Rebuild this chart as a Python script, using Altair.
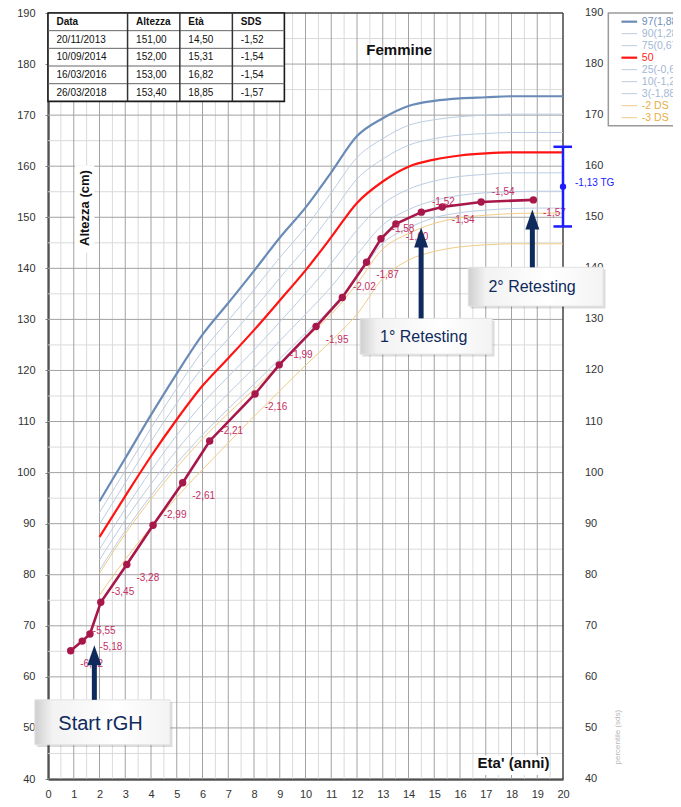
import altair as alt
import pandas as pd

FONT = "Liberation Sans"

# ---------------- reference curves (girls' height, cm) ----------------
ref_age = list(range(2, 21))
p97 = [94.4, 102.8, 111.3, 119.4, 127.0, 133.2, 139.5, 146.0, 151.9, 158.8, 165.9, 169.4, 171.8, 172.8, 173.3, 173.5, 173.7, 173.7, 173.7]
p90 = [92.2, 100.4, 108.7, 116.5, 123.8, 129.8, 135.8, 142.1, 148.0, 154.8, 161.7, 165.4, 168.0, 169.1, 169.7, 170.0, 170.2, 170.2, 170.2]
p75 = [89.9, 98.0, 106.1, 113.6, 120.6, 126.2, 132.0, 138.1, 144.0, 150.6, 157.5, 161.4, 164.1, 165.4, 166.1, 166.4, 166.6, 166.6, 166.6]
p50 = [87.4, 95.4, 103.2, 110.4, 117.0, 122.4, 127.9, 133.7, 139.6, 146.1, 152.8, 157.0, 159.9, 161.3, 162.1, 162.5, 162.7, 162.7, 162.7]
p25 = [85.0, 92.9, 100.4, 107.3, 113.5, 118.8, 124.0, 129.5, 135.1, 141.0, 147.5, 152.6, 155.5, 157.1, 158.0, 158.4, 158.7, 158.7, 158.7]
p10 = [82.9, 90.7, 97.8, 104.4, 110.3, 115.5, 120.5, 125.8, 131.0, 136.4, 142.7, 148.5, 151.5, 153.3, 154.3, 154.8, 155.0, 155.1, 155.1]
p3 = [80.9, 88.6, 95.5, 101.8, 107.4, 112.5, 117.3, 122.3, 127.3, 132.2, 138.3, 144.9, 147.9, 149.9, 150.9, 151.4, 151.7, 151.8, 151.8]
m2ds = [80.3, 88.0, 94.8, 101.0, 106.6, 111.6, 116.3, 121.3, 126.2, 131.0, 137.0, 143.8, 146.8, 148.8, 149.9, 150.4, 150.7, 150.8, 150.8]
m3ds = [76.0, 83.0, 89.3, 95.2, 100.6, 105.8, 111.0, 116.0, 121.0, 125.8, 131.0, 138.0, 141.6, 143.3, 144.2, 144.6, 144.8, 144.8, 144.8]

# ---------------- patient ----------------
pt_age = [0.88, 1.33, 1.63, 2.05, 3.06, 4.08, 5.23, 6.28, 8.04, 8.98, 10.41, 11.43, 12.37, 12.93, 13.51, 14.50, 15.31, 16.82, 18.85]
pt_height = [65.1, 67.0, 68.4, 74.6, 82.0, 89.7, 98.0, 106.2, 115.4, 121.1, 128.6, 134.3, 141.2, 145.8, 148.7, 151.0, 152.0, 153.0, 153.4]
pt_sds = ["-6,12", "-5,55", "-5,18", "-3,45", "-3,28", "-2,99", "-2,61", "-2,21", "-2,16", "-1,99", "-1,95",
          "-2,02", "-1,87", "-1,58", "-1,60", "-1,52", "-1,54", "-1,54", "-1,57"]

# ---------------- table ----------------
table_header = ["Data", "Altezza", "Età", "SDS"]
table_dates = ["20/11/2013", "10/09/2014", "16/03/2016", "26/03/2018"]
table_height = ["151,00", "152,00", "153,00", "153,40"]
table_age = ["14,50", "15,31", "16,82", "18,85"]
table_sds = ["-1,52", "-1,54", "-1,54", "-1,57"]

# ---------------- legend ----------------
legend_labels = ["97(1,88)", "90(1,28)", "75(0,67)", "50", "25(-0,67)", "10(-1,28)", "3(-1,88)", "-2 DS", "-3 DS"]
series_keys = ["97", "90", "75", "50", "25", "10", "3", "-2DS", "-3DS"]
series_vals = [p97, p90, p75, p50, p25, p10, p3, m2ds, m3ds]

# target height
tg_mid, tg_low, tg_high = 156.0, 148.2, 163.8
tg_label = "-1,13 TG"

# x / y tick values
x_ticks = list(range(0, 21))
y_ticks = list(range(40, 191, 10))

# ---------------- styles ----------------
DARK_BLUE = "#6a8bb8"
LIGHT_BLUE = "#bccde3"
RED = "#ff1414"
ORANGE = "#f1cc85"
PATIENT = "#a8174a"
PT_LABEL = "#c42f66"
NAVY = "#0f2a5c"
TG_BLUE = "#1c1cff"
series_color = [DARK_BLUE, LIGHT_BLUE, LIGHT_BLUE, RED, LIGHT_BLUE, LIGHT_BLUE, LIGHT_BLUE, ORANGE, ORANGE]
legend_text_color = ["#6f90bb", "#a3b7d3", "#a3b7d3", "#ff2020", "#a3b7d3", "#a3b7d3", "#a3b7d3", "#e6ad45", "#e6ad45"]
series_width = [2.2, 1, 1, 2.2, 1, 1, 1, 1, 1]

xs = alt.Scale(domain=[0, 20], nice=False, zero=False)
ys = alt.Scale(domain=[40, 190], nice=False, zero=False)
x_axis = alt.Axis(values=x_ticks, title=None, grid=False, ticks=False, domainColor="#000", domainWidth=2,
                  labelPadding=9, labelFontSize=11, labelColor="#333", labelFont=FONT, labelFlush=False, labelAngle=0)
y_axis = alt.Axis(values=y_ticks, title=None, grid=False, ticks=True, tickSize=3, tickColor="#888",
                  domainColor="#000", domainWidth=2, labelPadding=10, labelFontSize=11, labelColor="#333",
                  labelFont=FONT, labelFlush=False)


def X(f):
    return alt.X(f, type="quantitative", scale=xs, axis=x_axis)


def Y(f):
    return alt.Y(f, type="quantitative", scale=ys, axis=y_axis)


layers = []

# ---------------- grid ----------------
vg = pd.DataFrame({"a": [i * 0.5 for i in range(41)]})
vg["major"] = vg["a"] % 1 == 0
hg = pd.DataFrame({"h": list(range(40, 191, 5))})
hg["major"] = hg["h"] % 10 == 0
layers.append(alt.Chart(vg[~vg.major]).mark_rule(color="#dadada", strokeWidth=1).encode(x=X("a")))
layers.append(alt.Chart(hg[~hg.major]).mark_rule(color="#dadada", strokeWidth=1).encode(y=Y("h")))
layers.append(alt.Chart(vg[vg.major & (vg.a < 20)]).mark_rule(color="#a2a2a2", strokeWidth=1).encode(x=X("a")))
layers.append(alt.Chart(hg[hg.major & (hg.h < 190)]).mark_rule(color="#a2a2a2", strokeWidth=1).encode(y=Y("h")))
# frame top / right
layers.append(alt.Chart(pd.DataFrame({"h": [190]})).mark_rule(color="#444", strokeWidth=1.5).encode(y=Y("h")))
layers.append(alt.Chart(pd.DataFrame({"a": [20]})).mark_rule(color="#444", strokeWidth=1.5).encode(x=X("a")))

# ---------------- curves ----------------
rows = []
for k, vals in zip(series_keys, series_vals):
    for a, v in zip(ref_age, vals):
        rows.append({"s": k, "age": a, "h": v})
curves = pd.DataFrame(rows)
thin = curves[~curves.s.isin(["97", "50"])]
thick = curves[curves.s.isin(["97", "50"])]
cscale = alt.Scale(domain=series_keys, range=series_color)
layers.append(alt.Chart(thin).mark_line(strokeWidth=1, interpolate="monotone").encode(
    x=X("age"), y=Y("h"), color=alt.Color("s:N", scale=cscale, legend=None), detail="s:N"))
layers.append(alt.Chart(thick).mark_line(strokeWidth=2.2, interpolate="monotone").encode(
    x=X("age"), y=Y("h"), color=alt.Color("s:N", scale=cscale, legend=None), detail="s:N"))

# ---------------- patient ----------------
pt = pd.DataFrame({"age": pt_age, "h": pt_height, "lab": pt_sds})
pt["i"] = range(len(pt))
layers.append(alt.Chart(pt).mark_line(color=PATIENT, strokeWidth=2.6).encode(x=X("age"), y=Y("h"), order="i:Q"))
layers.append(alt.Chart(pt).mark_circle(color=PATIENT, size=55, opacity=1).encode(x=X("age"), y=Y("h")))
below = pt[pt.i % 2 == 0]
above = pt[pt.i % 2 == 1]
layers.append(alt.Chart(below).mark_text(font=FONT, fontSize=10, color=PT_LABEL, dx=21, dy=13).encode(
    x=X("age"), y=Y("h"), text="lab:N"))
layers.append(alt.Chart(above).mark_text(font=FONT, fontSize=10, color=PT_LABEL, dx=22, dy=-10).encode(
    x=X("age"), y=Y("h"), text="lab:N"))

# ---------------- target height ----------------
tg = pd.DataFrame({"a": [20.0], "lo": [tg_low], "hi": [tg_high], "mid": [tg_mid], "lab": [tg_label]})
layers.append(alt.Chart(tg).mark_rule(color=TG_BLUE, strokeWidth=2.5).encode(x=X("a"), y=Y("lo"), y2=alt.Y2("hi")))
caps = pd.DataFrame({"a1": [19.63, 19.63], "a2": [20.35, 20.35], "h": [tg_low, tg_high]})
layers.append(alt.Chart(caps).mark_rule(color=TG_BLUE, strokeWidth=2.5).encode(x=X("a1"), x2=alt.X2("a2"), y=Y("h")))
layers.append(alt.Chart(tg).mark_circle(color=TG_BLUE, size=40, opacity=1).encode(x=X("a"), y=Y("mid")))
layers.append(alt.Chart(tg).mark_text(font=FONT, fontSize=10, color=TG_BLUE, align="left", dx=12, dy=-4).encode(
    x=X("a"), y=Y("mid"), text="lab:N"))

# ---------------- right-side labels ----------------
ry = pd.DataFrame({"a": [20.0] * len(y_ticks), "h": y_ticks, "t": [str(v) for v in y_ticks]})
layers.append(alt.Chart(ry).mark_text(font=FONT, fontSize=11, color="#333", align="left", dx=22).encode(
    x=X("a"), y=Y("h"), text="t:N"))

# ---------------- table ----------------
col_edges = [0.0, 3.09, 5.12, 7.16, 9.18]
row_h = 3.46
t_top = 190.0
t_bot = t_top - 5 * row_h
layers.append(alt.Chart(pd.DataFrame({"x1": [col_edges[0]], "x2": [col_edges[-1]], "y1": [t_bot], "y2": [t_top]}))
              .mark_rect(fill="white", stroke="#1a1a1a", strokeWidth=1.6)
              .encode(x=X("x1"), x2=alt.X2("x2"), y=Y("y1"), y2=alt.Y2("y2")))
hsep = pd.DataFrame({"x1": [col_edges[0]] * 4, "x2": [col_edges[-1]] * 4,
                     "h": [t_top - r * row_h for r in range(1, 5)]})
layers.append(alt.Chart(hsep).mark_rule(color="#666", strokeWidth=1).encode(x=X("x1"), x2=alt.X2("x2"), y=Y("h")))
vsep = pd.DataFrame({"a": col_edges[1:4], "y1": [t_bot] * 3, "y2": [t_top] * 3})
layers.append(alt.Chart(vsep).mark_rule(color="#333", strokeWidth=1.5).encode(x=X("a"), y=Y("y1"), y2=alt.Y2("y2")))
cells = []
table_rows = [table_header] + [list(r) for r in zip(table_dates, table_height, table_age, table_sds)]
for r, row in enumerate(table_rows):
    for c, val in enumerate(row):
        cells.append({"a": col_edges[c] + 0.33, "h": t_top - (r + 0.5) * row_h, "t": val, "hdr": r == 0})
cells = pd.DataFrame(cells)
layers.append(alt.Chart(cells[cells.hdr]).mark_text(font=FONT, fontSize=10, fontWeight="bold", color="#111",
                                                    align="left", baseline="middle")
              .encode(x=X("a"), y=Y("h"), text="t:N"))
layers.append(alt.Chart(cells[~cells.hdr]).mark_text(font=FONT, fontSize=10, color="#111",
                                                     align="left", baseline="middle")
              .encode(x=X("a"), y=Y("h"), text="t:N"))

# ---------------- legend box ----------------
lg_x1, lg_x2, lg_y1, lg_y2 = 21.76, 25.6, 167.9, 190.0
layers.append(alt.Chart(pd.DataFrame({"x1": [lg_x1], "x2": [lg_x2], "y1": [lg_y1], "y2": [lg_y2]}))
              .mark_rect(fill="white", stroke="#9a9a9a", strokeWidth=1.5)
              .encode(x=X("x1"), x2=alt.X2("x2"), y=Y("y1"), y2=alt.Y2("y2")))
lg = pd.DataFrame({"lab": legend_labels, "s": series_keys,
                   "h": [188.3 - i * 2.35 for i in range(len(legend_labels))],
                   "x1": [22.27] * 9, "x2": [22.88] * 9, "xt": [23.06] * 9,
                   "tc": legend_text_color, "w": series_width})
layers.append(alt.Chart(lg).mark_rule().encode(
    x=X("x1"), x2=alt.X2("x2"), y=Y("h"),
    color=alt.Color("s:N", scale=cscale, legend=None),
    strokeWidth=alt.StrokeWidth("w:Q", scale=None, legend=None)))
layers.append(alt.Chart(lg).mark_text(font=FONT, fontSize=10.5, align="left", baseline="middle").encode(
    x=X("xt"), y=Y("h"), text="lab:N", color=alt.Color("tc:N", scale=None, legend=None)))

# ---------------- titles ----------------
layers.append(alt.Chart(pd.DataFrame({"a": [13.64], "h": [182.7], "t": ["Femmine"]})).mark_text(
    font=FONT, fontSize=15, fontWeight="bold", color="#111").encode(x=X("a"), y=Y("h"), text="t:N"))
layers.append(alt.Chart(pd.DataFrame({"x1": [1.05], "x2": [1.80], "y1": [143.1], "y2": [160.2]}))
              .mark_rect(fill="white").encode(x=X("x1"), x2=alt.X2("x2"), y=Y("y1"), y2=alt.Y2("y2")))
layers.append(alt.Chart(pd.DataFrame({"a": [1.43], "h": [151.8], "t": ["Altezza (cm)"]})).mark_text(
    font=FONT, fontSize=13, fontWeight="bold", color="#111", angle=270).encode(x=X("a"), y=Y("h"), text="t:N"))
layers.append(alt.Chart(pd.DataFrame({"x1": [16.55], "x2": [19.45], "y1": [40.8], "y2": [44.6]}))
              .mark_rect(fill="white").encode(x=X("x1"), x2=alt.X2("x2"), y=Y("y1"), y2=alt.Y2("y2")))
layers.append(alt.Chart(pd.DataFrame({"a": [18.08], "h": [43.1], "t": ["Eta' (anni)"]})).mark_text(
    font=FONT, fontSize=15, fontWeight="bold", color="#111").encode(x=X("a"), y=Y("h"), text="t:N"))
layers.append(alt.Chart(pd.DataFrame({"a": [22.15], "h": [48.2], "t": ["percentile (sds)"]})).mark_text(
    font=FONT, fontSize=8, color="#b8b8b8", angle=270).encode(x=X("a"), y=Y("h"), text="t:N"))

# ---------------- callouts & arrows ----------------
boxes = pd.DataFrame({
    "t": ["Start rGH", "1° Retesting", "2° Retesting"],
    "x1": [-0.51, 12.12, 16.32], "x2": [4.74, 17.25, 21.56],
    "y1": [46.7, 123.2, 132.6], "y2": [55.5, 130.2, 140.2],
    "tx": [2.04, 14.59, 18.80], "ty": [50.8, 126.6, 136.3],
    "fs": [20, 16, 16],
    "ax": [1.80, 14.49, 18.81], "tip": [66.2, 148.0, 151.5],
})
boxes["shaft_top"] = boxes["tip"] - 2.0
boxes["sx1"] = boxes["x1"] + 0.09
boxes["sx2"] = boxes["x2"] + 0.09
boxes["sy1"] = boxes["y1"] - 0.45
boxes["sy2"] = boxes["y2"] - 0.45
layers.append(alt.Chart(boxes).mark_rect(fill="#000", opacity=0.14).encode(
    x=X("sx1"), x2=alt.X2("sx2"), y=Y("sy1"), y2=alt.Y2("sy2")))
grad = alt.LinearGradient(gradient="linear", x1=0, x2=1, y1=0, y2=0, stops=[
    alt.GradientStop(offset=0, color="#cfcfcf"),
    alt.GradientStop(offset=0.13, color="#f2f2f2"),
    alt.GradientStop(offset=0.6, color="#ffffff"),
    alt.GradientStop(offset=1, color="#f3f3f3")])
layers.append(alt.Chart(boxes).mark_rect(fill=grad, stroke="#e2e2e2", strokeWidth=1).encode(
    x=X("x1"), x2=alt.X2("x2"), y=Y("y1"), y2=alt.Y2("y2")))
for fs in [20, 16]:
    layers.append(alt.Chart(boxes[boxes.fs == fs]).mark_text(font=FONT, fontSize=fs, color=NAVY).encode(
        x=X("tx"), y=Y("ty"), text="t:N"))
layers.append(alt.Chart(boxes).mark_rule(color=NAVY, strokeWidth=5).encode(
    x=X("ax"), y=Y("y2"), y2=alt.Y2("shaft_top")))
layers.append(alt.Chart(boxes).mark_point(shape="M0,0L0.7,2L-0.7,2Z", size=400, filled=True,
                                          color=NAVY, opacity=1).encode(x=X("ax"), y=Y("tip")))

chart = alt.layer(*layers).properties(
    width=515, height=766,
    padding={"left": 40, "top": 5, "right": 110, "bottom": 20},
    autosize=alt.AutoSizeParams(type="none"),
).configure_view(stroke=None)

chart.save("out.html", embed_options={"renderer": "svg", "actions": False})
